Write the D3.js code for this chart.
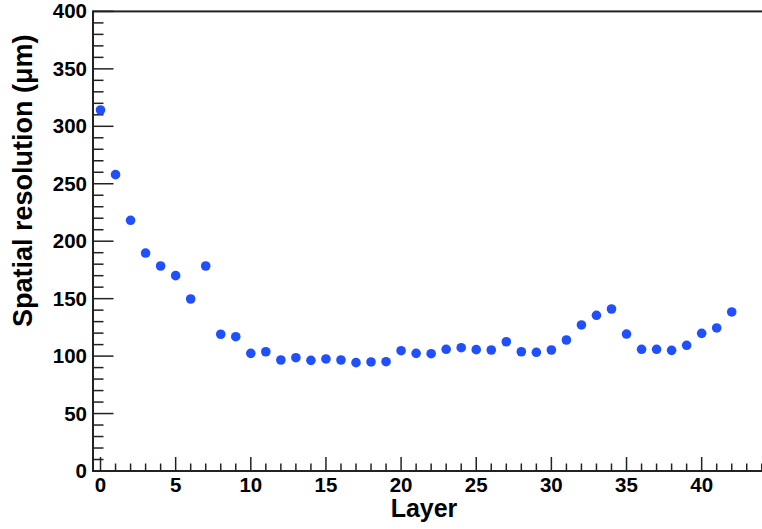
<!DOCTYPE html>
<html>
<head>
<meta charset="utf-8">
<script src="https://cdn.jsdelivr.net/npm/d3@7"></script>
<style>
  html, body { margin: 0; padding: 0; background: #fff; }
  svg { display: block; }
  text { font-family: "Liberation Sans", Arial, Helvetica, sans-serif; font-weight: bold; fill: #000; }
</style>
</head>
<body>
<svg id="chart" width="762" height="529"></svg>
<script>
// ---- data ----
const layers = d3.range(0, 43);
const resolution = [
  314.2, 257.9, 218.2, 189.7, 178.4, 170.0, 149.7, 178.4, 119.0, 116.9,
  102.4, 103.8, 96.6, 98.6, 96.3, 97.5, 96.6, 94.3, 94.9, 95.1,
  104.7, 102.4, 102.1, 105.9, 107.3, 105.6, 105.3, 112.5, 103.8, 103.3,
  105.3, 114.0, 127.1, 135.5, 141.0, 119.2, 105.9, 105.9, 105.0, 109.4,
  119.8, 124.5, 138.4
];
const xTickLabels = [0, 5, 10, 15, 20, 25, 30, 35, 40];
const yTickLabels = [0, 50, 100, 150, 200, 250, 300, 350, 400];
const xTitle = "Layer";
const yTitle = "Spatial resolution (\u03bcm)";

// ---- layout ----
const svg = d3.select("#chart");
const padL = 93, padT = 11.4, padB = 471, padR = 769.3;

const x = d3.scaleLinear().domain([-0.5, 44.5]).range([padL, padR]);
const y = d3.scaleLinear().domain([0, 400]).range([padB, padT]);

const axisColor = "#222";

// frame
svg.append("rect")
  .attr("x", padL).attr("y", padT)
  .attr("width", padR - padL).attr("height", padB - padT)
  .attr("fill", "none").attr("stroke", axisColor).attr("stroke-width", 2);

// x axis ticks (inward, upward)
const xMinor = d3.range(0, 45);
svg.append("g").selectAll("line").data(xMinor).join("line")
  .attr("x1", d => x(d)).attr("x2", d => x(d))
  .attr("y1", padB)
  .attr("y2", d => padB - (d % 5 === 0 ? 14 : 7.5))
  .attr("stroke", axisColor).attr("stroke-width", 1.5);
svg.append("g").selectAll("text").data(xTickLabels).join("text")
  .attr("x", d => x(d)).attr("y", 492)
  .attr("text-anchor", "middle")
  .attr("font-size", 20.5)
  .text(d => d);

// y axis ticks (inward, rightward)
const yMinor = d3.range(0, 401, 10);
svg.append("g").selectAll("line").data(yMinor).join("line")
  .attr("x1", padL)
  .attr("x2", d => padL + (d % 50 === 0 ? 20.5 : 10.5))
  .attr("y1", d => y(d)).attr("y2", d => y(d))
  .attr("stroke", axisColor).attr("stroke-width", 1.5);
svg.append("g").selectAll("text").data(yTickLabels).join("text")
  .attr("x", 87).attr("y", d => y(d) + 7)
  .attr("text-anchor", "end")
  .attr("font-size", 20.5)
  .text(d => d);

// titles
svg.append("text")
  .attr("x", 424).attr("y", 517)
  .attr("text-anchor", "middle")
  .attr("font-size", 25)
  .text(xTitle);
svg.append("text")
  .attr("transform", "translate(32,327) rotate(-90)")
  .attr("text-anchor", "start")
  .attr("font-size", 27)
  .text(yTitle);

// points
svg.append("g").selectAll("circle").data(layers).join("circle")
  .attr("cx", d => x(d))
  .attr("cy", (d, i) => y(resolution[i]))
  .attr("r", 4.8)
  .attr("fill", "#1f4fff");
</script>
</body>
</html>
